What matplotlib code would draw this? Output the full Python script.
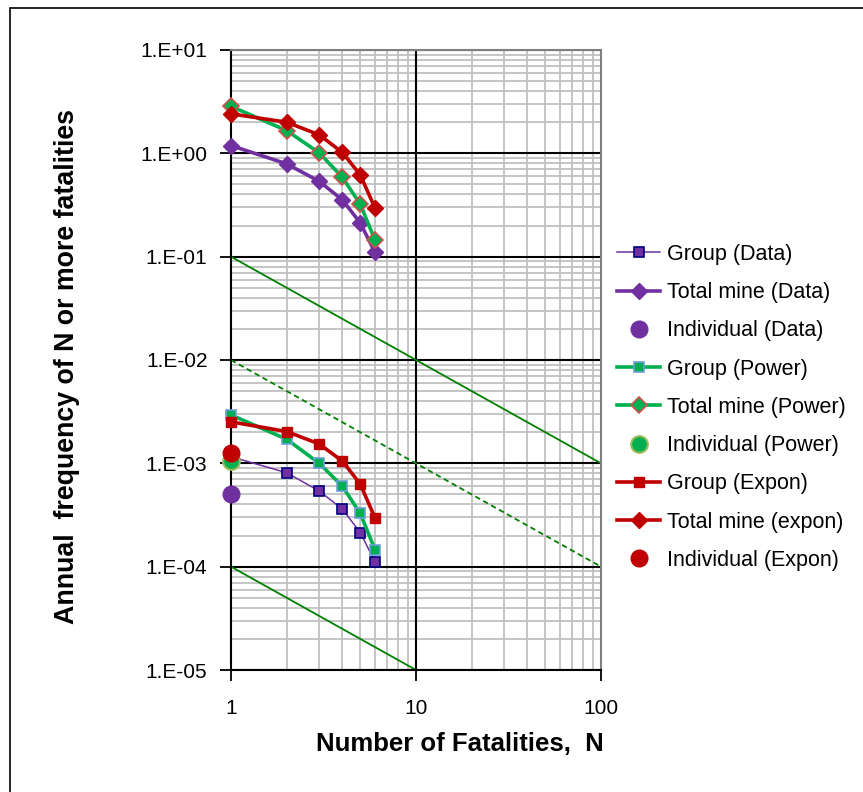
import matplotlib
matplotlib.use('Agg')
import matplotlib.pyplot as plt
from matplotlib.ticker import FixedLocator, FuncFormatter, NullFormatter
from matplotlib.patches import Rectangle
import numpy as np

plt.rcParams['font.family'] = ['Liberation Sans', 'DejaVu Sans']

# ---- data ----
n = [1, 2, 3, 4, 5, 6]

group_data = [1.16e-3, 8.1e-4, 5.4e-4, 3.6e-4, 2.14e-4, 1.11e-4]
total_data = [1.19, 0.79, 0.536, 0.354, 0.212, 0.110]
indiv_data = 5.0e-4

group_power = [2.94e-3, 1.71e-3, 1.0e-3, 6.0e-4, 3.27e-4, 1.46e-4]
total_power = [2.85, 1.66, 1.01, 0.586, 0.321, 0.145]
indiv_power = 1.06e-3

group_expon = [2.52e-3, 2.03e-3, 1.54e-3, 1.05e-3, 6.3e-4, 2.96e-4]
total_expon = [2.41, 2.0, 1.51, 1.02, 0.618, 0.296]
indiv_expon = 1.25e-3

# criterion lines (slope -1)
crit_n = [1, 100]
crit_upper = [1e-1, 1e-3]
crit_mid = [1e-2, 1e-4]
crit_lower = [1e-4, 1e-6]

purple = '#7030A0'
green = '#00B050'
red = '#C00000'
dkgreen = '#008000'

fig = plt.figure(figsize=(8.63, 7.92), dpi=100)
ax = fig.add_axes([231/863, 1-670/792, 370/863, 620/792])

ax.set_xscale('log')
ax.set_yscale('log')
ax.set_xlim(1, 100)
ax.set_ylim(1e-5, 1e1)

# grid
ax.xaxis.set_minor_locator(FixedLocator([k*d for d in (1, 10) for k in range(2, 10)]))
ax.yaxis.set_minor_locator(FixedLocator([k*10.0**e for e in range(-5, 1) for k in range(2, 10)]))
ax.xaxis.set_minor_formatter(NullFormatter())
ax.yaxis.set_minor_formatter(NullFormatter())
ax.grid(True, which='minor', color='#C0C0C0', lw=1.3)
ax.grid(True, which='major', axis='y', color='black', lw=1.5)
ax.axvline(10, color='black', lw=1.5, zorder=1)
ax.set_axisbelow(True)
ax.tick_params(which='minor', length=0)

ax.set_xticks([1, 10, 100])
ax.set_xticklabels(['1', '10', '100'])
ax.set_yticks([10.0**e for e in range(-5, 2)])
ax.yaxis.set_major_formatter(FuncFormatter(lambda v, p: '1.E%+03d' % int(round(np.log10(v)))))
ax.tick_params(axis='x', which='major', direction='out', length=8, width=1.3, pad=13, labelsize=15)
ax.tick_params(axis='y', which='major', direction='out', length=8, width=1.3, pad=9, labelsize=15)

for s in ('left', 'bottom'):
    ax.spines[s].set_color('black')
    ax.spines[s].set_linewidth(1.5)
for s in ('top', 'right'):
    ax.spines[s].set_color('#808080')
    ax.spines[s].set_linewidth(1.5)

# criterion lines
ax.plot(crit_n, crit_upper, color=dkgreen, lw=1.3, zorder=2)
ax.plot(crit_n, crit_mid, color=dkgreen, lw=1.3, ls=(0, (3, 2)), zorder=2)
ax.plot(crit_n, crit_lower, color=dkgreen, lw=1.3, zorder=2)

# series
series = []
series += ax.plot(n, group_data, color=purple, lw=1.1, marker='s', ms=6.5,
                  mfc=purple, mec='#000080', mew=1.2, label='Group (Data)', zorder=3)
series += ax.plot(n, total_data, color=purple, lw=2.6, marker='D', ms=8.5,
                  mfc=purple, mec=purple, label='Total mine (Data)', zorder=3)
series += ax.plot([1], [indiv_data], ls='none', marker='o', ms=12, mfc=purple, mec=purple,
                  label='Individual (Data)', zorder=4)
series += ax.plot(n, group_power, color=green, lw=2.6, marker='s', ms=7,
                  mfc=green, mec='#6F9FD8', mew=1.2, label='Group (Power)', zorder=3)
series += ax.plot(n, total_power, color=green, lw=2.6, marker='D', ms=8.5,
                  mfc=green, mec='#D0504D', mew=1.2, label='Total mine (Power)', zorder=3)
series += ax.plot([1], [indiv_power], ls='none', marker='o', ms=12, mfc=green, mec='#9BBB59', mew=1.5,
                  label='Individual (Power)', zorder=4)
series += ax.plot(n, group_expon, color=red, lw=2.6, marker='s', ms=7.5,
                  mfc=red, mec=red, label='Group (Expon)', zorder=3)
series += ax.plot(n, total_expon, color=red, lw=2.6, marker='D', ms=8.5,
                  mfc=red, mec=red, label='Total mine (expon)', zorder=3)
series += ax.plot([1], [indiv_expon], ls='none', marker='o', ms=12, mfc=red, mec=red,
                  label='Individual (Expon)', zorder=4)
for line in series:
    line.set_clip_on(False)

ax.set_xlabel('Number of Fatalities,  N', fontsize=18.5, fontweight='bold')
ax.xaxis.set_label_coords((460-231)/370, -(732-670)/620)
ax.set_ylabel('Annual  frequency of N or more fatalities', fontsize=19.3, fontweight='bold')
ax.yaxis.set_label_coords(-(231-80)/370, (670-367)/620)

leg = fig.legend(handles=series, loc='upper left', bbox_to_anchor=(617/863, 1-244/792),
                 frameon=False, fontsize=15.5, handlelength=2.0, handletextpad=0.3,
                 labelspacing=0.8, borderpad=0, borderaxespad=0)

# outer frame
fig.patches.append(Rectangle((10/863, -0.1), 1.2, 1-8/792+0.1, transform=fig.transFigure,
                             fill=False, ec='black', lw=1.2))

fig.savefig('out.png', dpi=100)
